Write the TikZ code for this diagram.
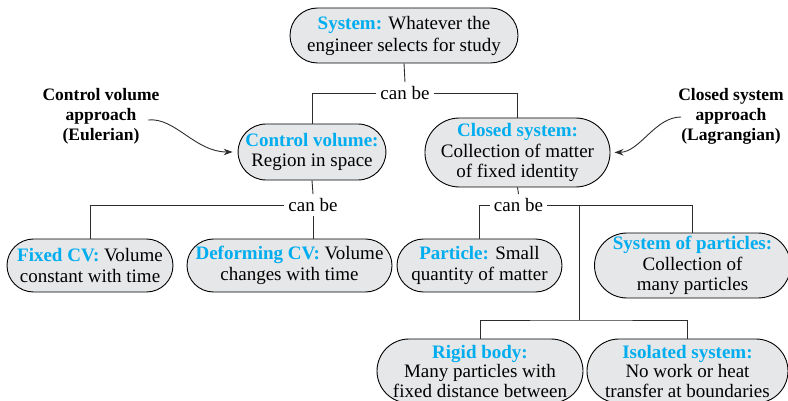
\documentclass[tikz,border=0pt]{standalone}
\usepackage{fontspec}
\setmainfont{Liberation Serif}
\usetikzlibrary{arrows.meta,shapes.misc}
\definecolor{cvblue}{RGB}{0,173,239}
\definecolor{boxfill}{RGB}{230,231,232}
\definecolor{linegray}{RGB}{45,45,45}
\newcommand\bluehead[1]{{\color{cvblue}\bfseries #1}}
\begin{document}
\begin{tikzpicture}[x=1pt,y=-1pt,
  box/.style={rounded rectangle, draw=black, line width=0.9pt, fill=boxfill,
    inner sep=0pt, align=center, font=\fontsize{19}{20.5}\selectfont},
  cb/.style={inner sep=4pt, font=\fontsize{19}{20.5}\selectfont},
  conn/.style={draw=linegray, line width=0.9pt},
  side/.style={align=center, font=\bfseries\fontsize{17.5}{20}\selectfont},
  arr/.style={conn, -{Stealth[length=9pt,width=6.5pt]}}
]
\useasboundingbox (0,0) rectangle (788,401);

% boxes
\node[box, minimum width=228pt, minimum height=55pt, font=\fontsize{19}{22}\selectfont] (sys) at (404,35.5)
  {\bluehead{System:} Whatever the\\engineer selects for study};
\node[box, minimum width=142pt, minimum height=56pt] (cv) at (312,152)
  {\bluehead{Control volume:}\\Region in space};
\node[box, minimum width=169pt, minimum height=69pt] (cs) at (517.5,152.5)
  {\bluehead{Closed system:}\\Collection of matter\\of fixed identity};
\node[box, minimum width=166pt, minimum height=53pt] (fcv) at (90,265.5)
  {\bluehead{Fixed CV:} Volume\\constant with time};
\node[box, minimum width=205pt, minimum height=53pt] (dcv) at (289.5,265.5)
  {\bluehead{Deforming CV:} Volume\\changes with time};
\node[box, minimum width=165pt, minimum height=53pt] (pt) at (479.5,265.5)
  {\bluehead{Particle:} Small\\quantity of matter};
\node[box, minimum width=191pt, minimum height=65pt] (sop) at (692.5,265.5)
  {\bluehead{System of particles:}\\Collection of\\many particles};
\node[box, minimum width=206pt, minimum height=64pt, font=\fontsize{19}{19.5}\selectfont] (rb) at (480,371)
  {\bluehead{Rigid body:}\\Many particles with\\fixed distance between};
\node[box, minimum width=201pt, minimum height=64pt, font=\fontsize{19}{19.5}\selectfont] (iso) at (687.5,371)
  {\bluehead{Isolated system:}\\No work or heat\\transfer at boundaries};

% can be labels
\node[cb] (cb1) at (405,93) {can be};
\node[cb] (cb2) at (313,205) {can be};
\node[cb] (cb3) at (518.5,205) {can be};

% side labels
\node[side] (lcv) at (101,116) {Control volume\\approach\\(Eulerian)};
\node[side] (lcs) at (731,116) {Closed system\\approach\\(Lagrangian)};

% connectors
\draw[conn] (sys.south) -- (cb1.north);
\draw[conn] (cb1.west) -| (cv.north);
\draw[conn] (cb1.east) -| (cs.north);
\draw[conn] (cv.south) -- (cb2.north);
\draw[conn] (cb2.west) -| (fcv.north);
\draw[conn] (cb2.south) -- (cb2.south |- dcv.north);
\draw[conn] (cs.south) -- (cb3.north);
\draw[conn] (cb3.west) -| (pt.north);
\draw[conn] (cb3.east) -| (sop.north);
\coordinate (j1) at (579,205);
\coordinate (j2) at (579,320);
\draw[conn] (j1) -- (j2);
\draw[conn] (rb.north) |- (j2) -| (iso.north);

% arrows
\coordinate (a1) at (148,120);
\coordinate (a2) at (681,117);
\draw[arr, shorten >=5pt] (a1) .. controls (175,117) and (195,152) .. (cv.west);
\draw[arr, shorten >=4pt] (a2) .. controls (655,117) and (640,152) .. (cs.east);
\end{tikzpicture}
\end{document}
